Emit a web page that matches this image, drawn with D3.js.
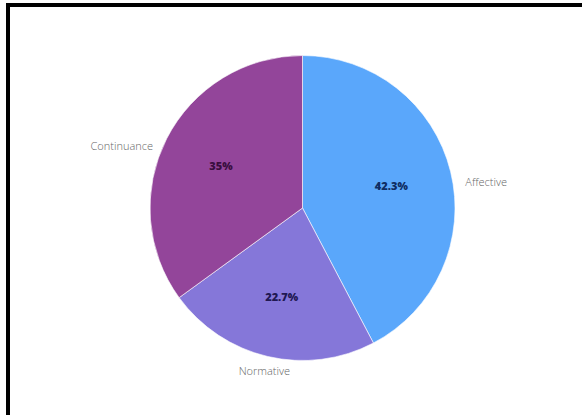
<!DOCTYPE html>
<html>
<head>
<meta charset="utf-8">
<script src="https://cdn.jsdelivr.net/npm/d3@7"></script>
<style>
  body { margin: 0; background: #fff; }
</style>
</head>
<body>
<svg id="chart"></svg>
<script>
// data
const categories = ["Affective", "Normative", "Continuance"]
const values = [42.3, 22.7, 35]
const colors = ["#5aa7fb", "#8577d9", "#93459a"]
const labelColors = ["#0f2d63", "#211852", "#3a0e3f"]

const width = 582,
    height = 415;

const cx = 302.5, cy = 208, radius = 152.5;

const svg = d3.select("#chart")
    .attr("width", width)
    .attr("height", height)

// black frame, only left and top visible
svg.append("rect").attr("x", 6).attr("y", 3).attr("width", 4).attr("height", height).style("fill", "#000")
svg.append("rect").attr("x", 6).attr("y", 3).attr("width", width).attr("height", 4).style("fill", "#000")

const g = svg.append("g").attr("transform", `translate(${cx},${cy})`)

const pie = d3.pie().sort(null).value(d => d[1])
const data_ready = pie(categories.map((c, i) => [c, values[i], i]))

const arcGenerator = d3.arc().innerRadius(0).outerRadius(radius)
const innerLabelArc = d3.arc().innerRadius(radius * 0.6).outerRadius(radius * 0.6)
const outerLabelArc = d3.arc().innerRadius(radius * 1.1).outerRadius(radius * 1.1)

g.selectAll("path.slice")
  .data(data_ready)
  .join("path")
    .attr("class", "slice")
    .attr("d", arcGenerator)
    .attr("fill", d => colors[d.data[2]])
    .attr("stroke", "#fff")
    .style("stroke-width", "0.6px")

// percentages inside
g.selectAll("text.pct")
  .data(data_ready)
  .join("text")
    .attr("class", "pct")
    .text(d => d.data[1] + "%")
    .attr("transform", d => `translate(${innerLabelArc.centroid(d)})`)
    .attr("dy", "0.35em")
    .style("text-anchor", "middle")
    .style("font-family", "Open Sans")
    .style("font-weight", "800")
    .style("font-size", "11px")
    .style("fill", d => labelColors[d.data[2]])

function side(d) {
  const mid = (d.startAngle + d.endAngle) / 2
  const s = Math.sin(mid)
  if (Math.abs(s) < 0.4) return "middle"
  return s > 0 ? "start" : "end"
}

// category names outside
g.selectAll("text.cat")
  .data(data_ready)
  .join("text")
    .attr("class", "cat")
    .text(d => d.data[0])
    .attr("transform", d => {
      const p = outerLabelArc.centroid(d)
      // side labels sit a bit lower than the pure radial point
      if (side(d) !== "middle") p[1] += 14
      return `translate(${p})`
    })
    .attr("dy", "0.35em")
    .style("text-anchor", side)
    .style("font-family", "Open Sans")
    .style("font-weight", "300")
    .style("font-size", "11px")
    .style("fill", "#666")
</script>
</body>
</html>
